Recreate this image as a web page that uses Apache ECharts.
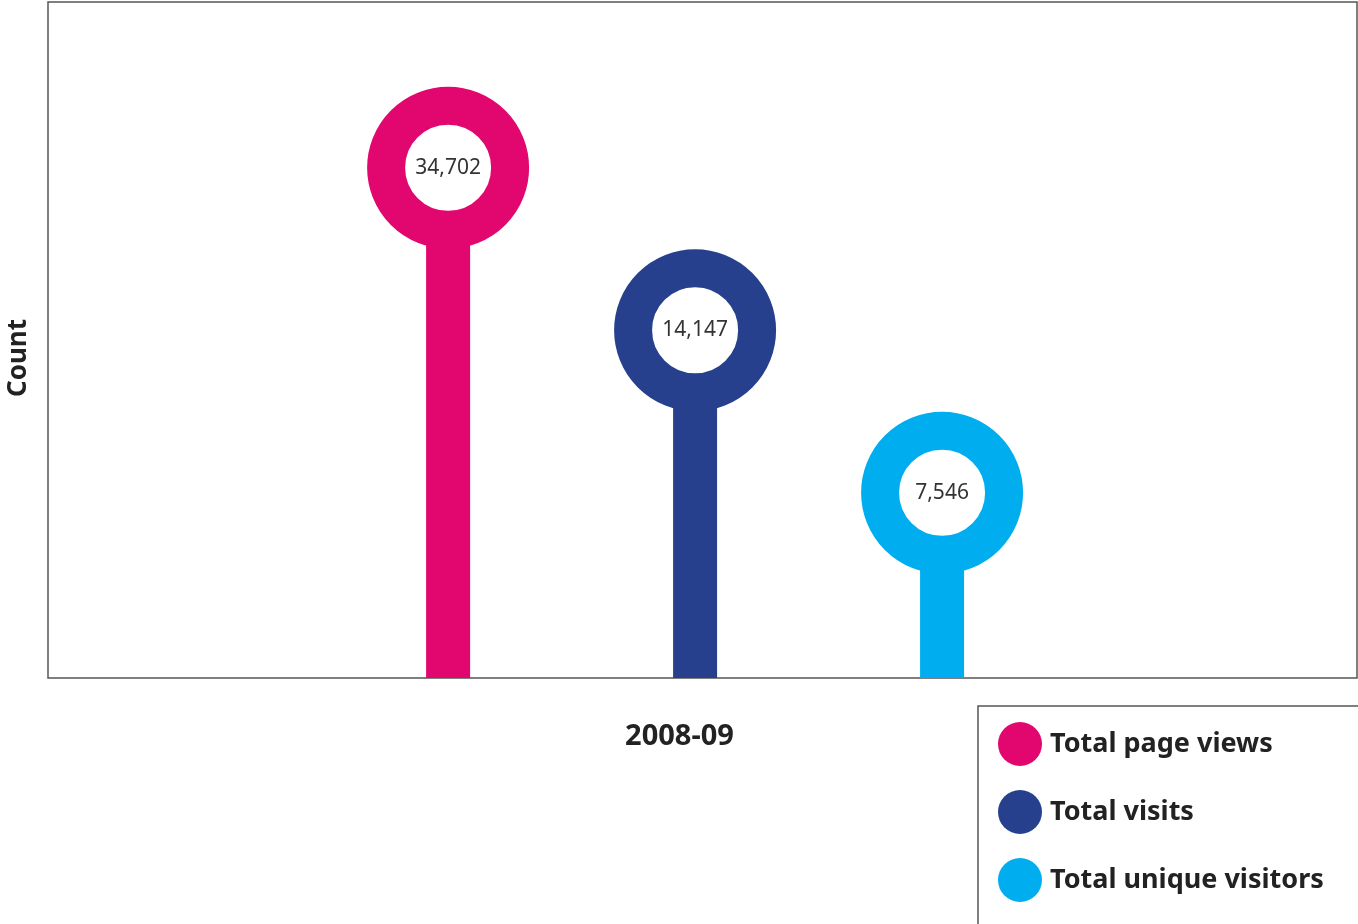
<!DOCTYPE html>
<html>
<head>
<meta charset="utf-8">
<script src="https://cdn.jsdelivr.net/npm/echarts@6/dist/echarts.min.js"></script>
<style>
  html, body { margin: 0; padding: 0; background: #fff; }
  #chart { width: 1358px; height: 924px; }
</style>
</head>
<body>
<div id="chart"></div>
<script>
// categories and counts (2008-09)
var categories = ['Total page views', 'Total visits', 'Total unique visitors'];
var counts = [34702, 14147, 7546];
var periodLabel = '2008-09';
var axisTitle = 'Count';

// colours per series
var colors = ['#E2066F', '#26408E', '#00AEEF'];

// the pins are stacked by rank, not by size
function rankOf(v) {
    return counts.filter(function (c) { return c <= v; }).length;
}

function fmt(n) {
    return n.toString().replace(/\B(?=(\d{3})+(?!\d))/g, ',');
}

// draw one pin: stem + ring + number
function renderPin(params, api) {
    var p = api.coord([api.value(0), api.value(1)]);
    var baseY = params.coordSys.y + params.coordSys.height;
    var color = api.visual('color');
    return {
        type: 'group',
        children: [
            {
                type: 'rect',
                shape: { x: p[0] - 22, y: p[1], width: 44, height: baseY - p[1] },
                style: { fill: color }
            },
            {
                type: 'circle',
                shape: { cx: p[0], cy: p[1], r: 62 },
                style: { fill: '#fff', stroke: color, lineWidth: 38 }
            },
            {
                type: 'text',
                x: p[0], y: p[1],
                style: {
                    text: fmt(api.value(2)),
                    align: 'center',
                    verticalAlign: 'middle',
                    fill: '#333',
                    font: '21px "Noto Sans"'
                }
            }
        ]
    };
}

var series = categories.map(function (name, i) {
    return {
        name: name,
        type: 'custom',
        renderItem: renderPin,
        itemStyle: { color: colors[i] },
        encode: { x: 0, y: 1 },
        data: [[i, rankOf(counts[i]), counts[i]]]
    };
});

var myChart = echarts.init(document.getElementById('chart'));

var option = {
    animation: false,
    textStyle: { fontFamily: 'Noto Sans' },
    grid: {
        left: 48, top: 2, right: 1, bottom: 246,
        outerBoundsMode: 'none',
        containLabel: false,
        show: true,
        borderColor: '#555',
        borderWidth: 1.5,
        backgroundColor: '#fff'
    },
    xAxis: {
        type: 'value',
        min: -1.62,
        max: 3.68,
        axisLine: { show: false },
        axisTick: { show: false },
        axisLabel: { show: false },
        splitLine: { show: false },
        name: periodLabel,
        nameLocation: 'middle',
        nameGap: 44,
        nameTextStyle: {
            fontFamily: 'Noto Sans',
            fontWeight: 'bold',
            fontSize: 29,
            color: '#222',
            padding: [0, 46, 0, 0]
        }
    },
    yAxis: {
        type: 'value',
        min: -0.14,
        max: 4.02,
        axisLine: { show: false },
        axisTick: { show: false },
        axisLabel: { show: false },
        splitLine: { show: false },
        name: axisTitle,
        nameLocation: 'middle',
        nameRotate: 90,
        nameGap: 16,
        nameTextStyle: {
            fontFamily: 'Noto Sans',
            fontWeight: 'bold',
            fontSize: 26,
            color: '#222',
            padding: [0, 36, 0, 0]
        }
    },
    legend: {
        orient: 'vertical',
        left: 998,
        top: 722,
        padding: 0,
        itemWidth: 44,
        itemHeight: 44,
        itemGap: 24,
        icon: 'circle',
        textStyle: {
            fontFamily: 'Noto Sans',
            fontWeight: 'bold',
            fontSize: 27,
            color: '#222',
            padding: [0, 0, 0, 3]
        },
        data: categories
    },
    // legend frame runs off the right and bottom edges
    graphic: [{
        type: 'rect',
        shape: { x: 978, y: 706, width: 420, height: 260 },
        style: { fill: 'none', stroke: '#555', lineWidth: 1.5 },
        z: -1
    }],
    series: series
};

myChart.setOption(option);
</script>
</body>
</html>
